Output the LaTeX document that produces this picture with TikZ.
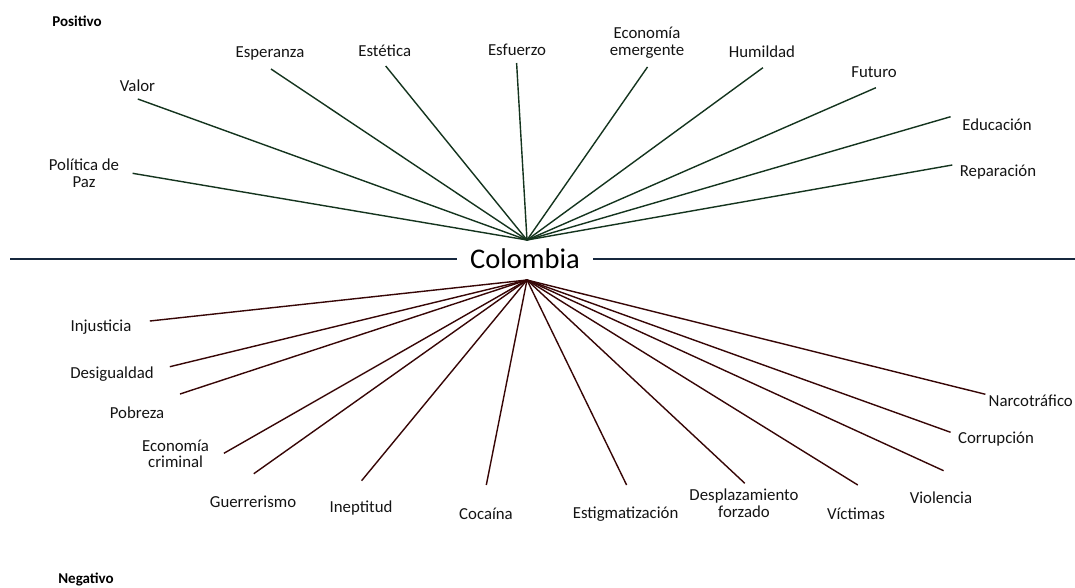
\documentclass[tikz,border=0pt]{standalone}
\usepackage{fontspec}
\setmainfont{Carlito}
\definecolor{posgreen}{RGB}{20,52,30}
\definecolor{negred}{RGB}{55,6,6}
\definecolor{axisblue}{RGB}{22,40,62}
\definecolor{txt}{RGB}{20,20,20}
\begin{document}
\begin{tikzpicture}[x=1pt,y=-1pt,
  lbl/.style={font=\fontsize{16.8}{16.7}\selectfont, text=txt, inner sep=0pt, align=center},
  head/.style={font=\bfseries\fontsize{15}{16}\selectfont, text=black, inner sep=0pt},
  posline/.style={draw=posgreen, line width=1.4pt},
  negline/.style={draw=negred, line width=1.4pt},
  axisline/.style={draw=axisblue, line width=1.4pt}]
\useasboundingbox (0,0) rectangle (1075,587);
\fill[white] (0,0) rectangle (1075,587);

% centre
\node[font=\fontsize{28.5}{30}\selectfont, inner sep=0pt, text=black] (col) at (525,259) {Colombia};
\coordinate (hu) at (527,240);
\coordinate (hd) at (527,280);
\coordinate (axl) at (10,259);
\coordinate (axr) at (1075,259);
\draw[axisline] (axl) -- ([xshift=-13pt]col.west |- axl);
\draw[axisline] ([xshift=13pt]col.east |- axr) -- (axr);

% headings
\node[head] (positivo) at (77,21) {Positivo};
\node[head] (negativo) at (86,579) {Negativo};

% positive labels
\node[lbl] (l1) at (84,173) {Política de\\Paz};
\node[lbl] (l2) at (137.5,86) {Valor};
\node[lbl] (l3) at (270,53) {Esperanza};
\node[lbl] (l4) at (384.7,51) {Estética};
\node[lbl] (l5) at (517,50) {Esfuerzo};
\node[lbl] (l6) at (647,43) {Economía\\emergente};
\node[lbl] (l7) at (762,52) {Humildad};
\node[lbl] (l8) at (874,72) {Futuro};
\node[lbl] (l9) at (997,125) {Educación};
\node[lbl] (l10) at (998,172) {Reparación};

\coordinate (p1) at (132.6,173.3);
\coordinate (p2) at (137.8,99);
\coordinate (p3) at (271,69);
\coordinate (p4) at (385.7,66);
\coordinate (p5) at (516.6,63);
\coordinate (p6) at (647.5,67);
\coordinate (p7) at (762.9,67.7);
\coordinate (p8) at (875.9,87.7);
\coordinate (p9) at (950.6,116.7);
\coordinate (p10) at (952.3,165);
\foreach \i in {1,...,10} {\draw[posline] (hu) -- (p\i);}

% negative labels
\node[lbl] (m1) at (101,327) {Injusticia};
\node[lbl] (m2) at (112,374) {Desigualdad};
\node[lbl] (m3) at (137,413) {Pobreza};
\node[lbl] (m4) at (175.6,453.7) {Economía\\criminal};
\node[lbl] (m5) at (253,501.7) {Guerrerismo};
\node[lbl] (m6) at (361,508.3) {Ineptitud};
\node[lbl] (m7) at (486,514) {Cocaína};
\node[lbl] (m8) at (625.6,514) {Estigmatización};
\node[lbl] (m9) at (744,503) {Desplazamiento\\forzado};
\node[lbl] (m10) at (856,514) {Víctimas};
\node[lbl] (m11) at (941,497.7) {Violencia};
\node[lbl] (m12) at (996,439) {Corrupción};
\node[lbl, anchor=east] (m13) at (1073,401) {Narcotráfico};

\coordinate (n1) at (149.8,321);
\coordinate (n2) at (169.8,366.7);
\coordinate (n3) at (180,394);
\coordinate (n4) at (223.9,453.3);
\coordinate (n5) at (253.8,473.7);
\coordinate (n6) at (361.6,480.7);
\coordinate (n7) at (486.3,485);
\coordinate (n8) at (626.6,485);
\coordinate (n9) at (744.8,483.3);
\coordinate (n10) at (857.8,485);
\coordinate (n11) at (943.6,470.7);
\coordinate (n12) at (950.6,432.3);
\coordinate (n13) at (985.4,394.3);
\foreach \i in {1,...,13} {\draw[negline] (hd) -- (n\i);}
\end{tikzpicture}
\end{document}
